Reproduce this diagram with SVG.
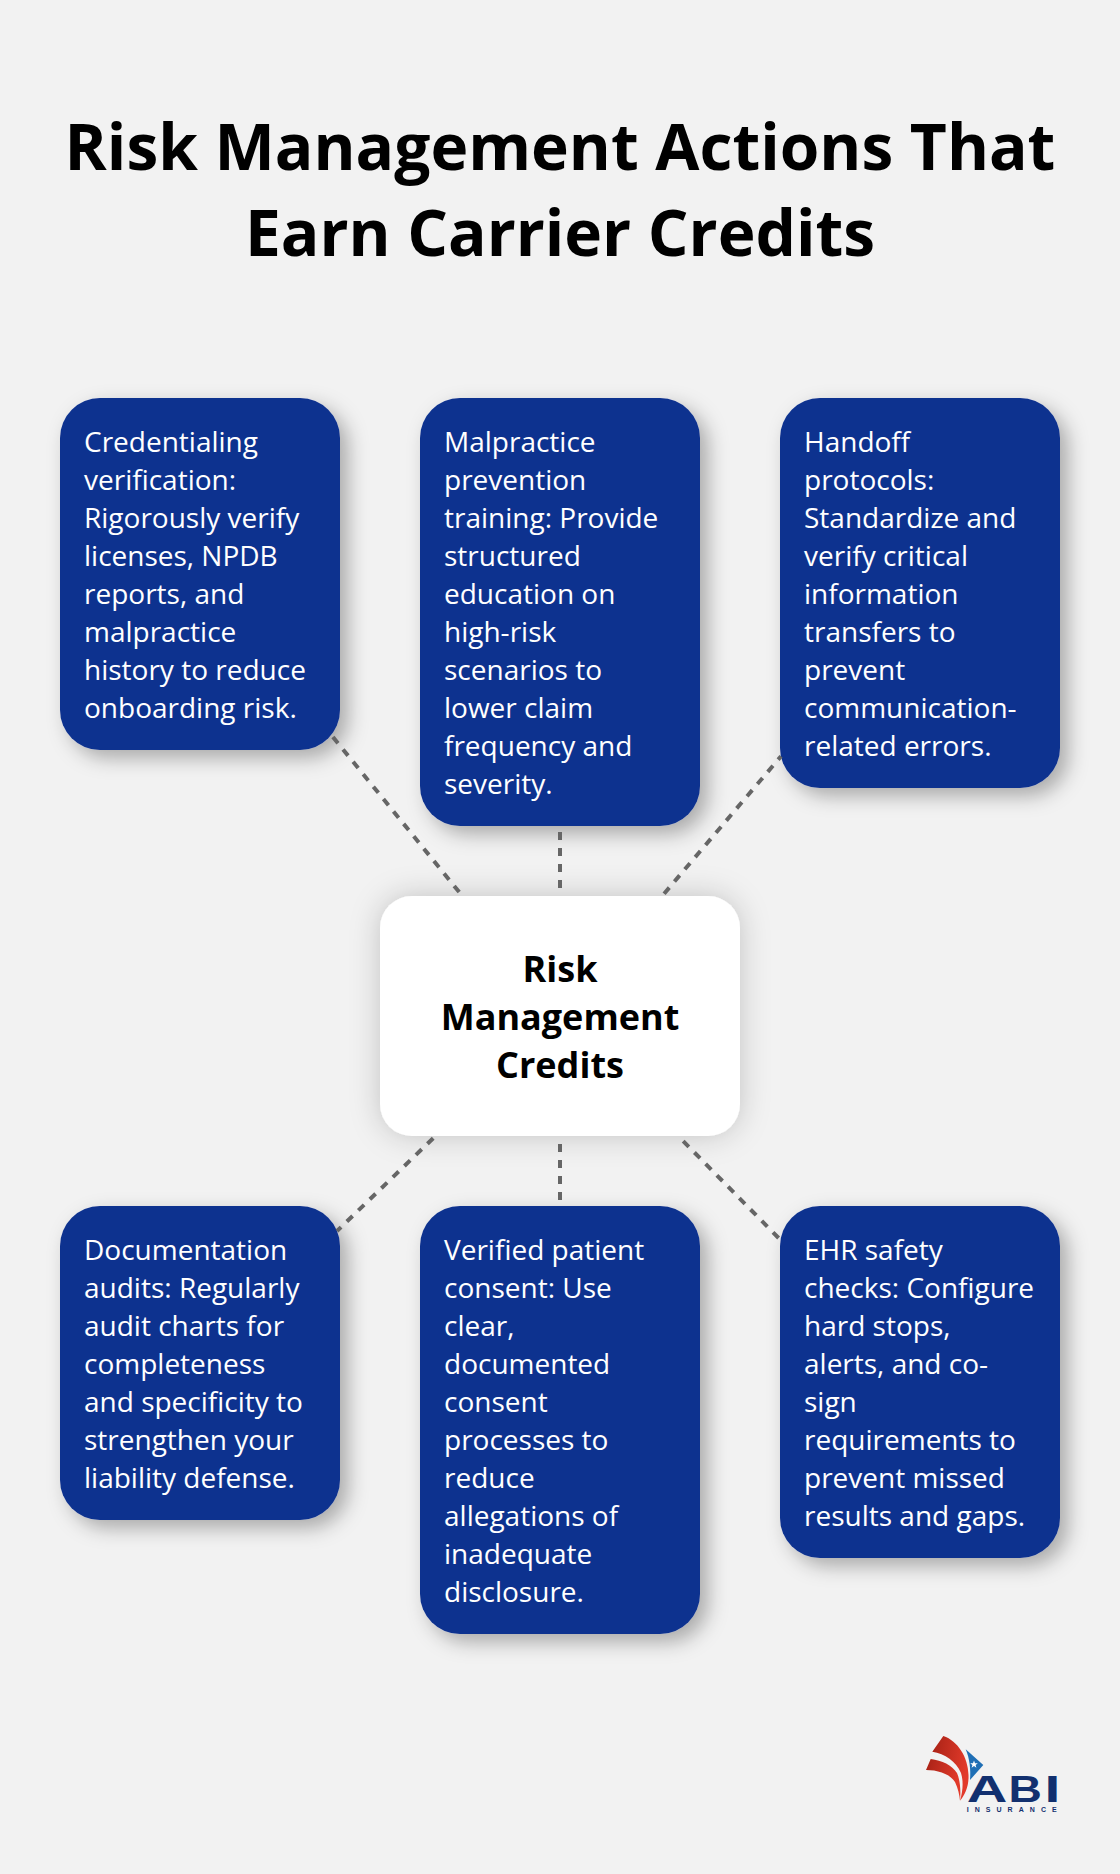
<svg xmlns="http://www.w3.org/2000/svg" width="1120" height="1874" viewBox="0 0 1120 1874">
<defs>
<filter id="cs" x="-20%" y="-20%" width="150%" height="150%"><feDropShadow dx="8" dy="8" stdDeviation="10" flood-color="#000" flood-opacity="0.3"/></filter>
<filter id="ms" x="-30%" y="-40%" width="160%" height="180%"><feDropShadow dx="0" dy="0" stdDeviation="15" flood-color="#000" flood-opacity="0.2"/></filter>
<linearGradient id="red" x1="0" y1="0" x2="1" y2="0.3"><stop offset="0" stop-color="#a82216"/><stop offset="1" stop-color="#e23a2a"/></linearGradient>
</defs>
<style>
.t{font-family:"Open Sans","Noto Sans",sans-serif;font-size:28px;fill:#fff}
.card{fill:#11328f;filter:url(#cs)}
.ttl{font-family:"Open Sans","Noto Sans",sans-serif;font-weight:700;font-size:64px;fill:#000;text-anchor:middle}
.mid{font-family:"Open Sans","Noto Sans",sans-serif;font-weight:700;font-size:36px;fill:#000;text-anchor:middle}
.c{stroke:#666;stroke-width:4;stroke-dasharray:8 8;fill:none}
</style>
<rect width="1120" height="1874" fill="#f2f2f2"/>
<text class="ttl" x="560" y="170">Risk Management Actions That</text>
<text class="ttl" x="560" y="256">Earn Carrier Credits</text>
<g id="n1"><rect class="card" x="60" y="398" width="280" height="352" rx="40"/>
<text class="t" x="84" y="452">Credentialing</text><text class="t" x="84" y="490">verification:</text><text class="t" x="84" y="528">Rigorously verify</text><text class="t" x="84" y="566">licenses, NPDB</text><text class="t" x="84" y="604">reports, and</text><text class="t" x="84" y="642">malpractice</text><text class="t" x="84" y="680">history to reduce</text><text class="t" x="84" y="718">onboarding risk.</text></g>
<g id="n2"><rect class="card" x="420" y="398" width="280" height="428" rx="40"/>
<text class="t" x="444" y="452">Malpractice</text><text class="t" x="444" y="490">prevention</text><text class="t" x="444" y="528">training: Provide</text><text class="t" x="444" y="566">structured</text><text class="t" x="444" y="604">education on</text><text class="t" x="444" y="642">high-risk</text><text class="t" x="444" y="680">scenarios to</text><text class="t" x="444" y="718">lower claim</text><text class="t" x="444" y="756">frequency and</text><text class="t" x="444" y="794">severity.</text></g>
<g id="n3"><rect class="card" x="780" y="398" width="280" height="390" rx="40"/>
<text class="t" x="804" y="452">Handoff</text><text class="t" x="804" y="490">protocols:</text><text class="t" x="804" y="528">Standardize and</text><text class="t" x="804" y="566">verify critical</text><text class="t" x="804" y="604">information</text><text class="t" x="804" y="642">transfers to</text><text class="t" x="804" y="680">prevent</text><text class="t" x="804" y="718">communication-</text><text class="t" x="804" y="756">related errors.</text></g>
<g id="center"><rect x="380" y="896" width="360" height="240" rx="32" fill="#fff" filter="url(#ms)"/>
<text class="mid" x="560" y="982">Risk</text><text class="mid" x="560" y="1030">Management</text><text class="mid" x="560" y="1078">Credits</text></g>
<g id="n4"><rect class="card" x="60" y="1206" width="280" height="314" rx="40"/>
<text class="t" x="84" y="1260">Documentation</text><text class="t" x="84" y="1298">audits: Regularly</text><text class="t" x="84" y="1336">audit charts for</text><text class="t" x="84" y="1374">completeness</text><text class="t" x="84" y="1412">and specificity to</text><text class="t" x="84" y="1450">strengthen your</text><text class="t" x="84" y="1488">liability defense.</text></g>
<g id="n5"><rect class="card" x="420" y="1206" width="280" height="428" rx="40"/>
<text class="t" x="444" y="1260">Verified patient</text><text class="t" x="444" y="1298">consent: Use</text><text class="t" x="444" y="1336">clear,</text><text class="t" x="444" y="1374">documented</text><text class="t" x="444" y="1412">consent</text><text class="t" x="444" y="1450">processes to</text><text class="t" x="444" y="1488">reduce</text><text class="t" x="444" y="1526">allegations of</text><text class="t" x="444" y="1564">inadequate</text><text class="t" x="444" y="1602">disclosure.</text></g>
<g id="n6"><rect class="card" x="780" y="1206" width="280" height="352" rx="40"/>
<text class="t" x="804" y="1260">EHR safety</text><text class="t" x="804" y="1298">checks: Configure</text><text class="t" x="804" y="1336">hard stops,</text><text class="t" x="804" y="1374">alerts, and co-</text><text class="t" x="804" y="1412">sign</text><text class="t" x="804" y="1450">requirements to</text><text class="t" x="804" y="1488">prevent missed</text><text class="t" x="804" y="1526">results and gaps.</text></g>
<g id="connectors">
<line class="c" x1="459.2" y1="892.1" x2="332.9" y2="737"/>
<line class="c" x1="560" y1="832" x2="560" y2="888"/>
<line class="c" x1="664.1" y1="893.7" x2="781" y2="756.3"/>
<line class="c" x1="433.2" y1="1138.2" x2="337" y2="1231"/>
<line class="c" x1="560" y1="1144" x2="560" y2="1200"/>
<line class="c" x1="683.2" y1="1141.1" x2="778.6" y2="1238"/>
</g>
<g id="logo">
<path d="M943.3 1736C958 1741 968 1757 968.5 1775C969 1786 965 1795 960 1800.7C963 1791 963.5 1781 961 1773C956 1761 945 1754 932.3 1751.7Z" fill="url(#red)"/>
<path d="M930.7 1759L926 1770C938 1770 950 1774 955 1782C958 1788 959.5 1795 960 1800.7C961 1790 960 1780 957 1773C952 1765 942 1760.5 930.7 1759Z" fill="url(#red)"/>
<path d="M965.7 1749.3L983.3 1765L970 1780C971 1770 969.5 1758 965.7 1749.3Z" fill="#1f6fb5"/>
<polygon points="974,1760.5 975,1763.2 977.8,1763.2 975.6,1765 976.4,1767.7 974,1766.1 971.6,1767.7 972.4,1765 970.2,1763.2 973,1763.2" fill="#fff"/>
<text y="1801.7" font-family="Liberation Sans" font-weight="700" font-size="37.5" fill="#12306f"><tspan x="966.7" textLength="40.6" lengthAdjust="spacingAndGlyphs">A</tspan><tspan x="1008.5" textLength="33.4" lengthAdjust="spacingAndGlyphs">B</tspan><tspan x="1044.4" textLength="15.8" lengthAdjust="spacingAndGlyphs">I</tspan></text>
<text x="966.7" y="1811.7" font-family="Liberation Sans" font-weight="700" font-size="7" fill="#12306f" textLength="90">INSURANCE</text>
</g>
</svg>
